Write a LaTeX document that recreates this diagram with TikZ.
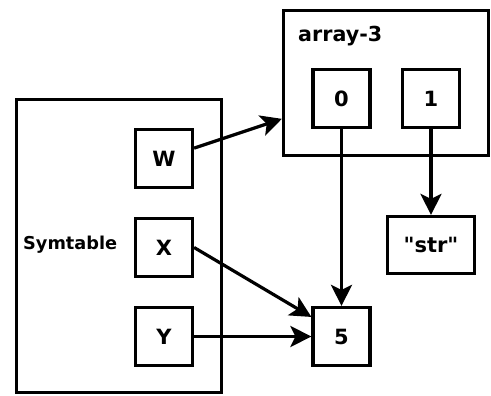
\documentclass[tikz,border=0pt]{standalone}
\usepackage{fontspec}
\newfontfamily\dv{DejaVu Sans}
\usetikzlibrary{arrows.meta}
\begin{document}
\begin{tikzpicture}[x=1pt,y=-1pt,
  box/.style={draw,line width=3.2pt,rectangle,inner sep=0pt,font=\dv\fontsize{21}{23}\selectfont\bfseries},
  cell/.style={box,minimum width=57pt,minimum height=58pt},
  lbl/.style={inner sep=0pt,anchor=base west,font=\dv\fontsize{18}{20}\selectfont\bfseries},
  conn/.style={line width=3.2pt,-{Stealth[length=21pt,width=21pt,inset=5pt]}}]
\useasboundingbox (0,0) rectangle (491,396);
\node[box,minimum width=205pt,minimum height=293pt] (sym) at (119,246) {};
\node[lbl] (symlbl) at (23,250) {\resizebox{94pt}{!}{Symtable}};
\node[cell] (W) at (164,158.5) {W};
\node[cell] (X) at (164,247.5) {X};
\node[cell] (Y) at (164,336.5) {Y};
\node[box,minimum width=205pt,minimum height=145pt] (arr) at (386,83) {};
\node[lbl] (arrlbl) at (298,42) {\resizebox{84pt}{!}{array-3}};
\node[cell] (a0) at (341.5,98.5) {0};
\node[cell] (a1) at (431,98.5) {1};
\node[box,minimum width=87pt,minimum height=57pt] (str) at (431,245) {"str"};
\node[cell] (five) at (341.5,336.5) {5};
\draw[conn] (W.19) -- (arr.199);
\draw[conn] (X.east) -- (five.147);
\draw[conn] (Y.east) -- (five.west);
\draw[conn] (a0.south) -- (five.north);
\draw[conn] (a1.south) -- (str.north);
\end{tikzpicture}
\end{document}
